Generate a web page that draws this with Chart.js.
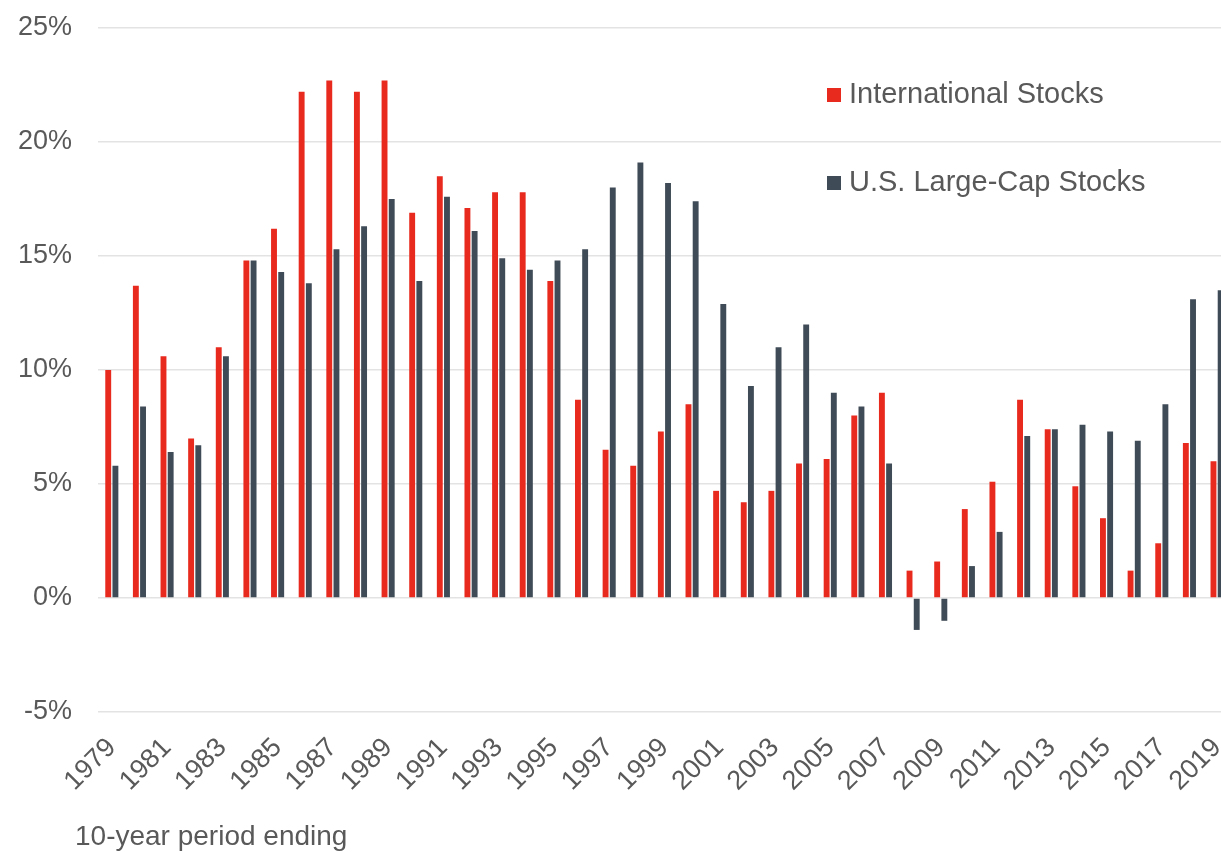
<!DOCTYPE html>
<html>
<head>
<meta charset="utf-8">
<title>10-year returns</title>
<script src="https://cdn.jsdelivr.net/npm/chart.js@4/dist/chart.umd.min.js"></script>
<style>
	html, body { margin: 0; padding: 0; background: #fff; overflow: hidden; }
	.returns-chart-wrapper { width: 1221px; height: 852px; overflow: hidden; }
</style>
</head>
<body>
<div class="returns-chart-wrapper">
	<canvas id="returns-chart" width="1252" height="852"></canvas>
</div>
<script>
var years = [];
for (var y = 1979; y <= 2019; y++) {
	years.push(String(y));
}

// annualized 10-year returns, %
var internationalStocks = [10.0, 13.7, 10.6, 7.0, 11.0, 14.8, 16.2, 22.2, 22.7, 22.2,
	22.7, 16.9, 18.5, 17.1, 17.8, 17.8, 13.9, 8.7, 6.5, 5.8,
	7.3, 8.5, 4.7, 4.2, 4.7, 5.9, 6.1, 8.0, 9.0, 1.2,
	1.6, 3.9, 5.1, 8.7, 7.4, 4.9, 3.5, 1.2, 2.4, 6.8, 6.0];
var usLargeCapStocks = [5.8, 8.4, 6.4, 6.7, 10.6, 14.8, 14.3, 13.8, 15.3, 16.3,
	17.5, 13.9, 17.6, 16.1, 14.9, 14.4, 14.8, 15.3, 18.0, 19.1,
	18.2, 17.4, 12.9, 9.3, 11.0, 12.0, 9.0, 8.4, 5.9, -1.4,
	-1.0, 1.4, 2.9, 7.1, 7.4, 7.6, 7.3, 6.9, 8.5, 13.1, 13.5];
var yTicks = [-5, 0, 5, 10, 15, 20, 25];

var textColor = '#595959';
var fontFamily = '"Liberation Sans", Arial, sans-serif';

// legend sits inside the plot, top right
var innerLegend = {
	id: 'innerLegend',
	afterDraw: function (chart) {
		var ctx = chart.ctx;
		var rows = [95, 183];
		ctx.save();
		ctx.font = '29px ' + fontFamily;
		ctx.textBaseline = 'middle';
		ctx.textAlign = 'left';
		chart.data.datasets.forEach(function (ds, i) {
			ctx.fillStyle = ds.backgroundColor;
			ctx.fillRect(827, rows[i] - 7, 14, 14);
			ctx.fillStyle = textColor;
			ctx.fillText(ds.label, 849, rows[i]);
		});
		ctx.restore();
	}
};

var footNote = {
	id: 'footNote',
	afterDraw: function (chart) {
		var ctx = chart.ctx;
		ctx.save();
		ctx.font = '28px ' + fontFamily;
		ctx.fillStyle = textColor;
		ctx.textAlign = 'left';
		ctx.textBaseline = 'alphabetic';
		ctx.fillText('10-year period ending', 75, 845);
		ctx.restore();
	}
};

var ctx = document.getElementById('returns-chart').getContext('2d');
var myChart = new Chart(ctx, {
	type: 'bar',
	data: {
		labels: years,
		datasets: [
			{
				label: 'International Stocks',
				data: internationalStocks,
				backgroundColor: '#e8291e',
				categoryPercentage: 0.52,
				barPercentage: 0.82
			},
			{
				label: 'U.S. Large-Cap Stocks',
				data: usLargeCapStocks,
				backgroundColor: '#3f4b56',
				categoryPercentage: 0.52,
				barPercentage: 0.82
			}
		]
	},
	options: {
		responsive: false,
		animation: false,
		layout: {
			padding: { top: 28, right: 2, left: 0, bottom: 0 }
		},
		plugins: {
			legend: { display: false },
			tooltip: { enabled: false }
		},
		scales: {
			x: {
				grid: { display: false },
				border: { display: false },
				ticks: {
					autoSkip: false,
					maxRotation: 45,
					minRotation: 45,
					padding: 12,
					color: textColor,
					font: { family: fontFamily, size: 27 },
					callback: function (value, index) {
						return index % 2 === 0 ? years[index] : '';
					}
				},
				afterFit: function (scale) {
					scale.height = 140;
				}
			},
			y: {
				min: yTicks[0],
				max: yTicks[yTicks.length - 1],
				grid: {
					color: '#e3e3e3',
					lineWidth: 1.5,
					drawTicks: false
				},
				border: { display: false },
				afterBuildTicks: function (scale) {
					scale.ticks = yTicks.map(function (v) { return { value: v }; });
				},
				ticks: {
					padding: 26,
					color: textColor,
					font: { family: fontFamily, size: 27 },
					callback: function (value) {
						return value + '%';
					}
				},
				afterFit: function (scale) {
					// keep the plot top fixed by layout padding only
					scale.width = 98;
					scale.paddingTop = 0;
					scale.paddingBottom = 0;
				}
			}
		}
	},
	plugins: [innerLegend, footNote]
});
</script>
</body>
</html>
